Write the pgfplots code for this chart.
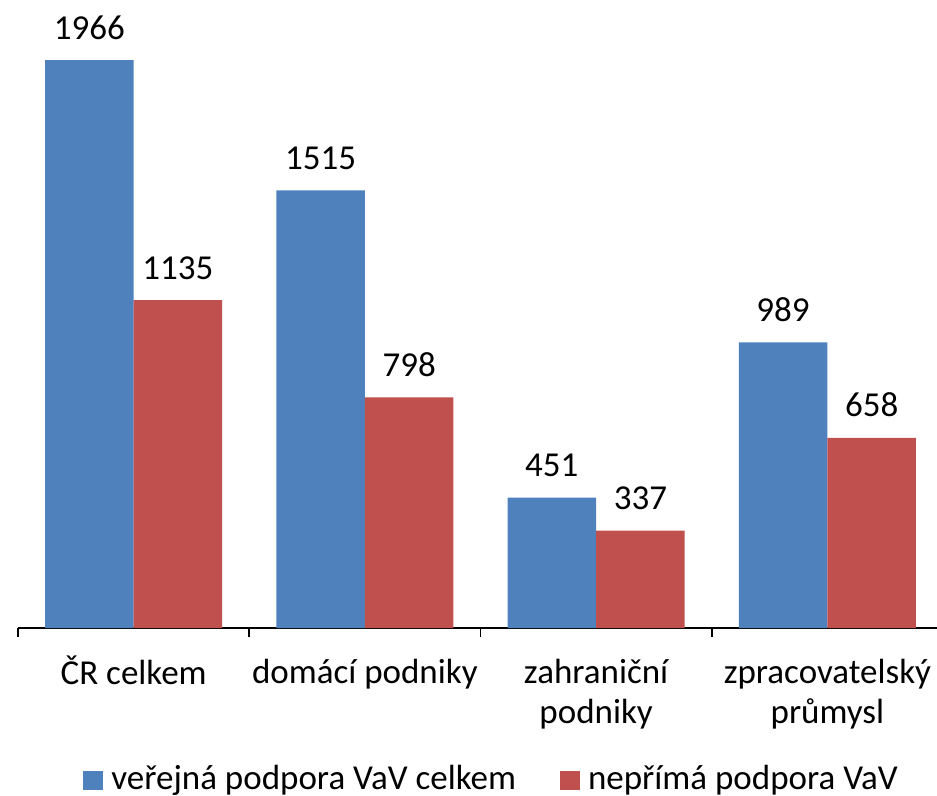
\documentclass[border=0pt]{standalone}
\usepackage{pgfplots}
\pgfplotsset{compat=1.18}
\usepackage{fontspec}
\setmainfont{Carlito}
\definecolor{cblue}{HTML}{4F81BD}
\definecolor{cred}{HTML}{C0504D}
\begin{document}
\begin{tikzpicture}[font=\fontsize{10.5pt}{12pt}\selectfont]
\begin{axis}[
  at={(0,0)}, anchor=south west,
  x=69.375pt, y=0.08667pt,
  xmin=-0.5, xmax=3.5, ymin=0, ymax=2000,
  scale only axis,
  clip=false,
  ybar=0pt, bar width=0.383,
  axis y line=none,
  axis x line*=bottom,
  axis line style={black, line width=0.5pt, -},
  xtick={0,1,2,3},
  xticklabels={{\strut ČR celkem},{\strut domácí podniky},{\strut zahraniční\\podniky},{\strut zpracovatelský\\průmysl}},
  major tick length=0pt,
  minor xtick={-0.5,0.5,1.5,2.5,3.5},
  minor tick length=2.7pt,
  tick align=outside,
  minor tick style={black, line width=0.5pt},
  xticklabel style={align=center, anchor=north, inner sep=0pt, yshift=-8.1pt},
  /pgf/number format/assume math mode=true,
  /pgf/number format/1000 sep={},
  nodes near coords,
  every node near coord/.append style={anchor=base, inner sep=0pt, yshift=6.3pt, black},
  legend columns=2,
  legend style={draw=none, fill=none, inner sep=0pt, at={(0.511,-0.289)}, anchor=south,
    nodes={inner sep=0pt, anchor=base west},
    /tikz/every odd column/.append style={column sep=2.4pt},
    /tikz/every even column/.append style={column sep=13.2pt}},
]
\addplot[fill=cblue, draw=none, legend image code/.code={\fill[cblue] (0pt,-0.3pt) rectangle (6pt,5.4pt);}]
  coordinates {(0,1966) (1,1515) (2,451) (3,989)};
\addplot[fill=cred, draw=none, legend image code/.code={\fill[cred] (0pt,-0.3pt) rectangle (6pt,5.4pt);}]
  coordinates {(0,1135) (1,798) (2,337) (3,658)};
\legend{veřejná podpora VaV celkem, nepřímá podpora VaV}
\end{axis}
\pgfresetboundingbox
\useasboundingbox (-5.4pt,-50.1pt) rectangle (275.7pt,188.4pt);
\end{tikzpicture}
\end{document}
